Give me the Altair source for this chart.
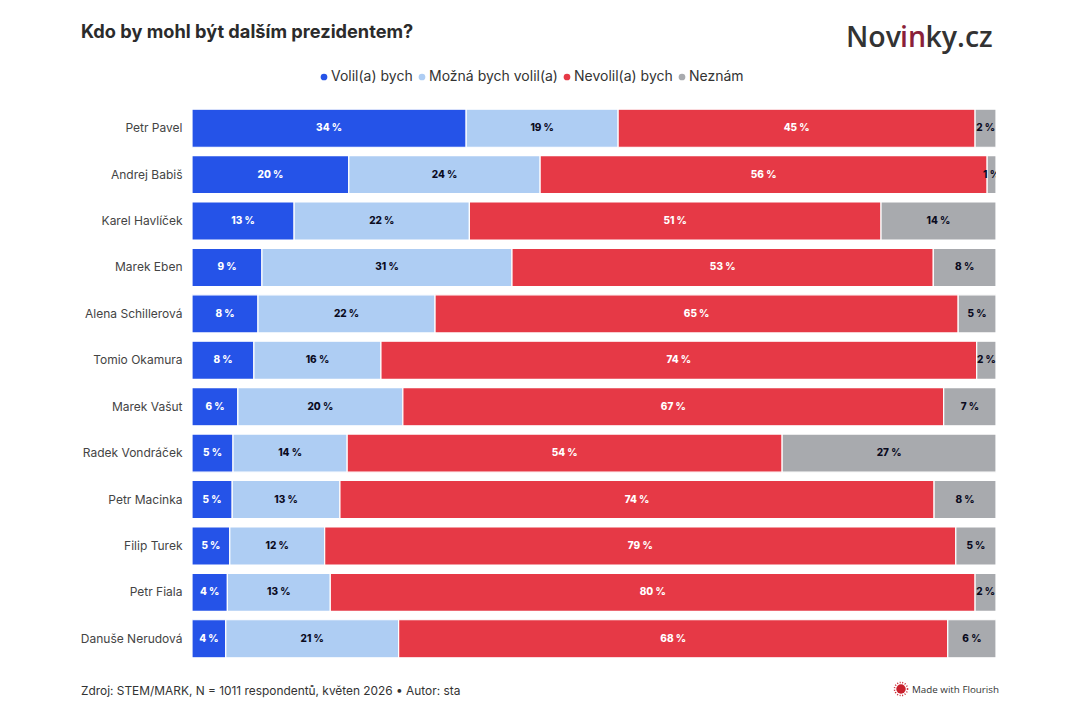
import altair as alt
import pandas as pd

names = ["Petr Pavel", "Andrej Babiš", "Karel Havlíček", "Marek Eben", "Alena Schillerová", "Tomio Okamura",
         "Marek Vašut", "Radek Vondráček", "Petr Macinka", "Filip Turek", "Petr Fiala", "Danuše Nerudová"]
series = ["Volil(a) bych", "Možná bych volil(a)", "Nevolil(a) bych", "Neznám"]
colors = ["#2553E8", "#AECDF3", "#E63946", "#A8AAAE"]

volil = [34.1, 19.5, 12.7, 8.7, 8.2, 7.7, 5.7, 5.1, 5.0, 4.7, 4.4, 4.2]
mozna = [18.9, 23.8, 21.8, 31.1, 22.0, 15.8, 20.5, 14.2, 13.4, 11.8, 12.8, 21.5]
nevolil = [44.4, 55.6, 51.2, 52.4, 65.0, 74.1, 67.2, 54.1, 73.9, 78.5, 80.2, 68.3]
neznam = [2.6, 1.1, 14.3, 7.8, 4.7, 2.4, 6.5, 26.6, 7.7, 5.0, 2.6, 6.0]

label_volil = [34, 20, 13, 9, 8, 8, 6, 5, 5, 5, 4, 4]
label_mozna = [19, 24, 22, 31, 22, 16, 20, 14, 13, 12, 13, 21]
label_nevolil = [45, 56, 51, 53, 65, 74, 67, 54, 74, 79, 80, 68]
label_neznam = [2, 1, 14, 8, 5, 2, 7, 27, 8, 5, 2, 6]

rows = []
for s_i, (s, vals, labs) in enumerate(zip(series,
                                          [volil, mozna, nevolil, neznam],
                                          [label_volil, label_mozna, label_nevolil, label_neznam])):
    for n, v, l in zip(names, vals, labs):
        rows.append({"name": n, "series": s, "order": s_i, "value": v, "label": f"{l} %"})
df = pd.DataFrame(rows)

FONT = "Inter"

base = alt.Chart(df).transform_stack(
    stack="value", groupby=["name"], sort=[alt.SortField("order", order="ascending")],
    as_=["v0", "v1"], offset="normalize",
).transform_calculate(mid="(datum.v0 + datum.v1) / 2")

x_scale = alt.Scale(domain=[0, 1], nice=False, zero=False)
y_enc = alt.Y("name:N", sort=names, title=None,
              scale=alt.Scale(paddingInner=0.18, paddingOuter=0.09),
              axis=alt.Axis(domain=False, ticks=False, labelPadding=10, labelFont=FONT, labelFontSize=12,
                            labelColor="#444444", labelFontWeight=400, grid=False, labelLimit=150))

bars = base.mark_bar(stroke="white", strokeWidth=1.2).encode(
    x=alt.X("v0:Q", scale=x_scale, axis=None),
    x2="v1:Q",
    y=y_enc,
    color=alt.Color("series:N", sort=series, scale=alt.Scale(domain=series, range=colors),
                    legend=alt.Legend(orient="none", legendX=125, legendY=-35, direction="horizontal",
                                      title=None, symbolType="circle", symbolSize=45, symbolStrokeWidth=0,
                                      labelFont=FONT, labelFontSize=14, labelColor="#333333",
                                      labelOffset=0, columnPadding=2, symbolOpacity=1, labelLimit=200)),
)

labels = base.mark_text(font=FONT, fontSize=10, fontWeight=800, clip=True).encode(
    x=alt.X("mid:Q", scale=x_scale, axis=None),
    y=y_enc,
    text="label:N",
    color=alt.condition(f"datum.series == '{series[0]}' || datum.series == '{series[2]}'",
                        alt.value("white"), alt.value("#0B0B1E")),
)


def note(text, x, y, **kw):
    return alt.Chart(alt.Data(values=[{"t": text}])).mark_text(baseline="alphabetic", **kw).encode(
        x=alt.value(x), y=alt.value(y), text="t:N")


OX, OY = 192, 105
title = note("Kdo by mohl být dalším prezidentem?", 81 - OX, 38 - OY, align="left", font=FONT,
             fontSize=18.2, fontWeight=700, color="#2B2B2B")
footer = note("Zdroj: STEM/MARK, N = 1011 respondentů, květen 2026 • Autor: sta", 81 - OX, 695 - OY, align="left",
              font=FONT, fontSize=11.9, color="#333333")
LOGO = dict(align="left", font="Open Sans", fontSize=28.5, fontWeight=600)
logo1 = note("Nov", 846 - OX, 47 - OY, color="#333333", **LOGO)
logo2 = note("in", 900 - OX, 47 - OY, color="#8A1F3A", **LOGO)
logo3 = note("ky.cz", 925.5 - OX, 47 - OY, color="#333333", **LOGO)
flourish = note("Made with Flourish", 912 - OX, 693 - OY, align="left", font="Open Sans", fontSize=9.8, color="#333333")
flourish_dot = alt.Chart(alt.Data(values=[{"t": 1}])).mark_point(
    filled=True, shape="circle", size=90, color="#C8202C", opacity=1).encode(
    x=alt.value(901 - OX), y=alt.value(689 - OY))
flourish_ring = alt.Chart(alt.Data(values=[{"t": 1}])).mark_point(
    filled=False, shape="circle", size=170, color="#C8202C", opacity=1, strokeWidth=1.5,
    strokeDash=[1, 1.6]).encode(
    x=alt.value(901 - OX), y=alt.value(689 - OY))

chart = alt.layer(bars, labels, title, footer, logo1, logo2, logo3, flourish, flourish_ring, flourish_dot).properties(
    width=804, height=557,
    padding={"left": 184, "top": 97, "right": 60, "bottom": 50},
    autosize=alt.AutoSizeParams(type="none"),
    background="white",
).configure_view(stroke=None)

chart.save("out.html", embed_options={"renderer": "svg", "actions": False})
